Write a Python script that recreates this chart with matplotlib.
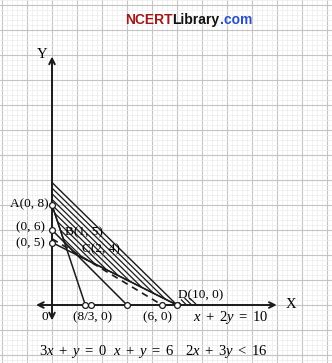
import matplotlib
matplotlib.use("Agg")
import matplotlib.pyplot as plt
from matplotlib import font_manager
from matplotlib.patches import Polygon
import numpy as np

# corner points of the region
corner_x = [0, 1, 2, 10]
corner_y = [8, 5, 4, 0]
outer_top = 9.8          # where the outer bounding line meets the Y axis

# lines: (y-intercept, x-intercept)
line_3x_y = (8, 8 / 3)
line_x_y = (6, 6)
line_x_2y = (5, 10)
line_dashed = (5.3, 8.8)

# small circles on the axes
y_marks = [8, 6, 5]
x_marks = [8 / 3, 3.1, 6, 8.8, 10]

# little hatched piece just right of D
tail_x = [10, 11.6, 11.6, 10.4]
tail_y = [0, 0, 0.55, 0.55]

plt.rcParams['mathtext.fontset'] = 'custom'
plt.rcParams['mathtext.rm'] = 'Liberation Serif'
plt.rcParams['mathtext.it'] = 'Liberation Serif:italic'

names = {f.name for f in font_manager.fontManager.ttflist}
if 'Liberation Sans Narrow' in names:
    title_font, title_size = 'Liberation Sans Narrow', 12.5
else:
    title_font, title_size = 'Liberation Sans', 10

fig = plt.figure(figsize=(3.32, 3.63), dpi=100)
ax = fig.add_axes([0, 0, 1, 1])
ax.set_xlim(-4.16, 22.4)
ax.set_ylim(-4.64, 24.4)
ax.axis('off')

# graph paper
for gx in np.arange(-4, 22.5, 0.4):
    major = abs(gx / 2 - round(gx / 2)) < 1e-6
    ax.axvline(gx, color='#c4c4c4' if major else '#ececec', lw=0.8 if major else 0.5, zorder=0)
for gy in np.arange(-4.4, 24.5, 0.4):
    major = abs(gy / 2 - round(gy / 2)) < 1e-6
    ax.axhline(gy, color='#c4c4c4' if major else '#ececec', lw=0.8 if major else 0.5, zorder=0)

ink = '#1a1a1a'

# axes with arrows
ax.annotate('', xy=(18.2, 0), xytext=(-1.5, 0),
            arrowprops=dict(arrowstyle='<->', lw=1.4, color=ink, mutation_scale=10), zorder=3)
ax.annotate('', xy=(0, 20.1), xytext=(0, -1.45),
            arrowprops=dict(arrowstyle='<->', lw=1.4, color=ink, mutation_scale=10), zorder=3)

# hatched region, hatch lines parallel to the outer line
hx = [0, corner_x[3], corner_x[2], corner_x[1], corner_x[0]]
hy = [outer_top, corner_y[3], corner_y[2], corner_y[1], corner_y[0]]
region = Polygon(list(zip(hx, hy)), closed=True, facecolor='none', edgecolor=ink, lw=1.0, zorder=3)
ax.add_patch(region)
tail = Polygon(list(zip(tail_x, tail_y)), closed=True, facecolor='none', edgecolor='none')
ax.add_patch(tail)
slope = outer_top / corner_x[3]
xs = np.array([-1, 13])
for c in np.arange(outer_top - 0.45, 5.5, -0.45):
    ln, = ax.plot(xs, c - slope * xs, color=ink, lw=0.9, zorder=2)
    ln.set_clip_path(region)
for c in np.arange(outer_top + 0.35, 11.6, 0.4):
    ln, = ax.plot(xs, c - slope * xs, color=ink, lw=0.9, zorder=2)
    ln.set_clip_path(tail)

# lines
for b, a in [line_3x_y, line_x_y, line_x_2y]:
    ax.plot([0, a], [b, 0], color=ink, lw=1.1, zorder=3)
ax.plot([0, line_dashed[1]], [line_dashed[0], 0], color=ink, lw=1.2, ls=(0, (4, 3)), zorder=3)

ax.plot([0] * len(y_marks), y_marks, 'o', mfc='white', mec=ink, ms=4.2, mew=0.9, zorder=5)
ax.plot(x_marks, [0] * len(x_marks), 'o', mfc='white', mec=ink, ms=4.2, mew=0.9, zorder=5)

serif = 'Liberation Serif'
fs = 9.5
ax.text(-0.24, 8.08, 'A(0, 8)', family=serif, fontsize=fs, ha='right', va='center')
ax.text(-0.56, 6.24, '(0, 6)', family=serif, fontsize=fs, ha='right', va='center')
ax.text(-0.56, 4.96, '(0, 5)', family=serif, fontsize=fs, ha='right', va='center')
ax.text(1.04, 5.84, 'B(1, 5)', family=serif, fontsize=fs, ha='left', va='center')
ax.text(2.4, 4.48, 'C(2, 4)', family=serif, fontsize=fs, ha='left', va='center')
ax.text(10.08, 0.8, 'D(10, 0)', family=serif, fontsize=fs, ha='left', va='center')
ax.text(3.28, -0.96, '(8/3, 0)', family=serif, fontsize=fs, ha='center', va='center')
ax.text(8.4, -0.96, '(6, 0)', family=serif, fontsize=fs, ha='center', va='center')
ax.text(-0.56, -0.96, '0', family=serif, fontsize=fs, ha='center', va='center')
ax.text(-0.8, 20.0, 'Y', family=serif, fontsize=fs + 1, ha='center', va='center')
ax.text(19.1, 0, 'X', family=serif, fontsize=fs + 1, ha='center', va='center')

efs = 10.5
ax.text(14.28, -1.04, r'$x\ +\ 2y\ =\ 10$', fontsize=efs, ha='center', va='center')
ax.text(1.68, -3.76, r'$3x\ +\ y\ =\ 0$', fontsize=efs, ha='center', va='center')
ax.text(7.36, -3.76, r'$x\ +\ y\ =\ 6$', fontsize=efs, ha='center', va='center')
ax.text(13.96, -3.76, r'$2x\ +\ 3y\ <\ 16$', fontsize=efs, ha='center', va='center')

# site name in three colours
parts = [('NCERT', '#a01a1a'), ('Library', '#111111'), ('.com', '#2a4ec8')]
prev = ax.text(5.84, 22.8, parts[0][0], color=parts[0][1], family=title_font,
               fontsize=title_size, fontweight='bold', ha='left', va='center')
for s, c in parts[1:]:
    prev = ax.annotate(s, xy=(1, 0.5), xycoords=prev, color=c, family=title_font,
                       fontsize=title_size, fontweight='bold', ha='left', va='center')

fig.savefig('out.png', dpi=100)
